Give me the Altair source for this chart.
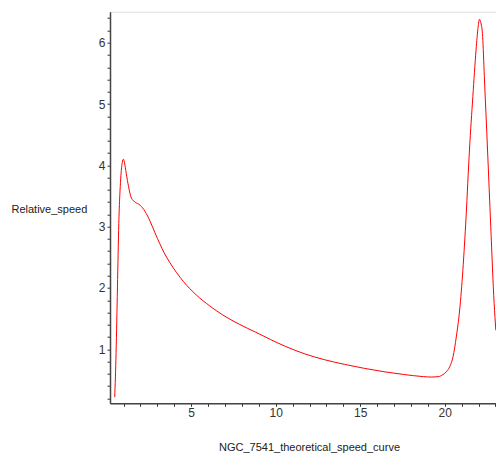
import altair as alt
import pandas as pd

# Curve points
xs = [0.48, 0.52, 0.56, 0.60, 0.64, 0.68, 0.72, 0.77, 0.82, 0.87, 0.93, 0.99,
      1.06, 1.16, 1.30, 1.46, 1.69, 1.98, 2.27, 2.57, 2.86, 3.15, 3.40, 3.75,
      4.53, 5.31, 6.09, 6.87, 7.84, 8.81, 10.56, 11.73, 12.90, 14.07,
      15.24, 16.40, 17.57, 18.74, 19.20, 19.60, 19.90, 20.10, 20.30, 20.49,
      20.68, 20.88, 21.07, 21.26, 21.46, 21.66, 21.85, 21.97, 22.05, 22.14,
      22.24, 22.34, 22.53, 22.72, 22.92, 23.02]
ys = [0.22, 0.55, 0.95, 1.45, 2.00, 2.55, 3.05, 3.45, 3.72, 3.92, 4.05, 4.10,
      4.04, 3.87, 3.65, 3.47, 3.40, 3.35, 3.25, 3.09, 2.90, 2.72, 2.575, 2.41,
      2.11, 1.885, 1.71, 1.56, 1.41, 1.28, 1.05, 0.925, 0.83, 0.755,
      0.69, 0.635, 0.59, 0.555, 0.548, 0.553, 0.59, 0.635, 0.72, 0.88,
      1.20, 1.64, 2.29, 3.16, 4.25, 5.12, 5.88, 6.25, 6.38, 6.32,
      6.10, 5.45, 4.25, 3.00, 1.75, 1.31]

x_ticks = list(range(1, 24))
y_ticks = [round(0.2 * i, 1) for i in range(1, 33)]

df = pd.DataFrame({"x": xs, "y": ys})

FONT = "Liberation Sans"

chart = alt.Chart(df).mark_line(color="#ff0000", strokeWidth=1, clip=True,
                                interpolate="monotone").encode(
    x=alt.X("x:Q",
            scale=alt.Scale(domain=[0.2, 23.03], nice=False, zero=False),
            axis=alt.Axis(
                values=x_ticks,
                labelExpr="datum.value % 5 == 0 ? datum.label : ''",
                title="NGC_7541_theoretical_speed_curve",
                titleFont=FONT, titleFontSize=11, titleFontWeight="normal",
                titleColor="#222222",
                titleAnchor="start", titleAlign="center", titleBaseline="middle",
                titleX=199, titleY=44,
                labelFont=FONT, labelFontSize=12, labelColor="#333333",
                labelPadding=1, labelFlush=False,
                tickSize=3, tickColor="#333333", tickWidth=1,
                domainColor="#444444", domainWidth=1.5,
                grid=False,
            )),
    y=alt.Y("y:Q",
            scale=alt.Scale(domain=[0.12, 6.505], nice=False, zero=False),
            axis=alt.Axis(
                values=y_ticks,
                labelExpr="abs(datum.value - round(datum.value)) < 0.01 ? format(datum.value, 'd') : ''",
                title="Relative_speed",
                titleFont=FONT, titleFontSize=11, titleFontWeight="normal",
                titleColor="#222222",
                titleAngle=0, titleAlign="left", titleBaseline="middle",
                titleX=-99, titleY=197.3,
                labelFont=FONT, labelFontSize=12, labelColor="#333333",
                labelPadding=2, labelFlush=False,
                tickSize=3, tickColor="#333333", tickWidth=1,
                domainColor="#444444", domainWidth=1.5,
                grid=False,
            )),
).properties(
    width=386,
    height=391.6,
    autosize=alt.AutoSizeParams(type="none"),
    padding={"left": 102, "top": 3.7, "right": 0, "bottom": 50.7},
).configure_view(stroke=None).configure(background="white")

chart.save("out.html", embed_options={"renderer": "svg", "actions": False})
